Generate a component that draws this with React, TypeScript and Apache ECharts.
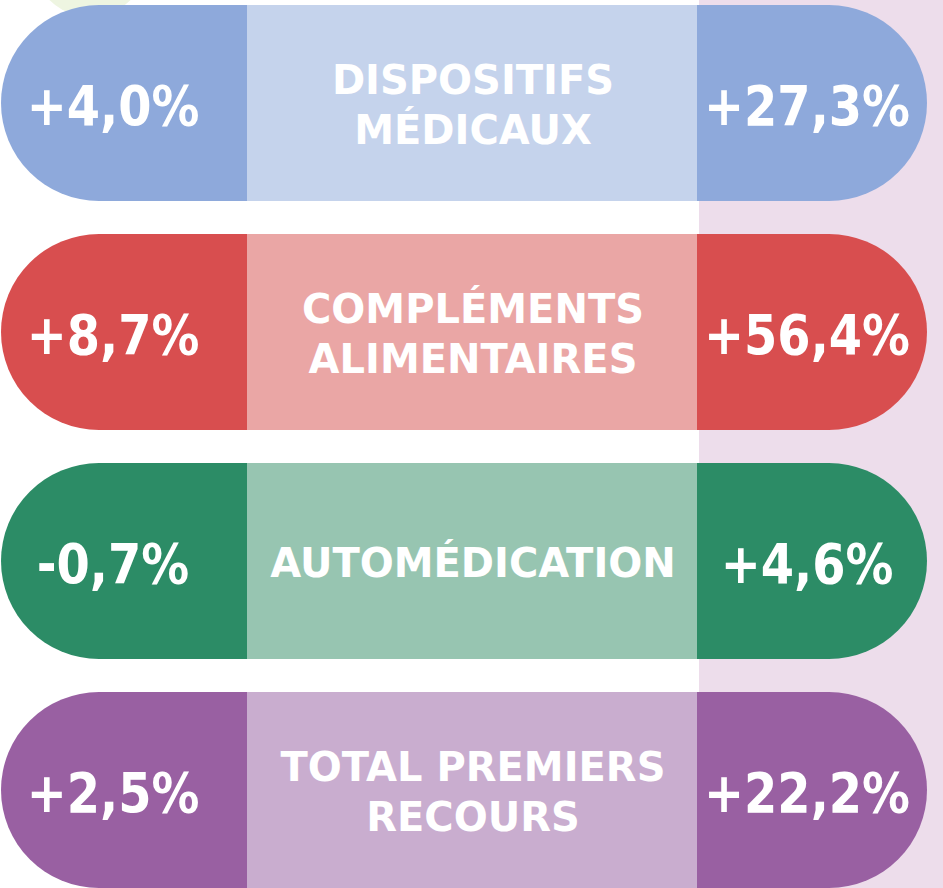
import React, { useEffect, useRef } from "react";
import * as echarts from "echarts";

const categories = ["DISPOSITIFS\nMÉDICAUX", "COMPLÉMENTS\nALIMENTAIRES", "AUTOMÉDICATION", "TOTAL PREMIERS\nRECOURS"];
const leftValues = [4.0, 8.7, -0.7, 2.5];
const rightValues = [27.3, 56.4, 4.6, 22.2];
const darkColors = ["#8EA9DB", "#D84E4F", "#2C8C66", "#9960A2"];
const lightColors = ["#C5D3EC", "#EAA6A5", "#97C5B1", "#C9ADCF"];

const fmt = (v: number) => (v >= 0 ? "+" : "-") + Math.abs(v).toFixed(1).replace(".", ",") + "%";

export default function App() {
  const ref = useRef<HTMLDivElement>(null);
  useEffect(() => {
    if (!ref.current) return;
    const chart = echarts.init(ref.current, null, { renderer: "svg" });
    const data = categories.map((c, i) => [0, i, leftValues[i], rightValues[i]]);
    const valueText = (x: number, y: number, text: string) => ({
      type: "text",
      x,
      y,
      scaleX: 0.87,
      style: {
        x: 0, y: 0, text, fill: "#ffffff",
        font: "bold 55px 'DejaVu Sans'", align: "center", verticalAlign: "middle",
      },
    });
    chart.setOption({
      animation: false,
      backgroundColor: "#ffffff",
      graphic: [
        { type: "rect", z: -10, shape: { x: 699, y: 0, width: 244, height: 888 }, style: { fill: "#EDDDEB" }, silent: true },
        { type: "circle", z: -10, shape: { cx: 90, cy: -40, r: 57 }, style: { fill: "#EEF5E1" }, silent: true },
      ],
      grid: { left: 0, right: 0, top: 103, bottom: 98 },
      xAxis: { type: "value", min: 0, max: 943, show: false },
      yAxis: { type: "category", data: categories, inverse: true, boundaryGap: false, show: false },
      series: [
        {
          type: "custom",
          coordinateSystem: "cartesian2d",
          data,
          renderItem: (params: any, api: any) => {
            const i = api.value(1);
            const c = api.coord([0, i]);
            const cy = c[1];
            const h = 196;
            const r = h / 2;
            const top = cy - r;
            const xL = 1, xA = 247, xB = 697, xR = 927;
            const lv = api.value(2);
            const rv = api.value(3);
            return {
              type: "group",
              children: [
                { type: "rect", shape: { x: xA - 1, y: top, width: xB - xA + 2, height: h }, style: { fill: lightColors[i] } },
                { type: "rect", shape: { x: xL, y: top, width: xA - xL, height: h, r: [r, 0, 0, r] }, style: { fill: darkColors[i] } },
                { type: "rect", shape: { x: xB, y: top, width: xR - xB, height: h, r: [0, r, r, 0] }, style: { fill: darkColors[i] } },
                valueText(113, cy + 3, fmt(lv)),
                valueText(807, cy + 3, fmt(rv)),
                {
                  type: "text",
                  style: {
                    x: 473, y: cy + 2, text: categories[i], fill: "#ffffff",
                    font: "bold 40px 'DejaVu Sans'", lineHeight: 50, align: "center", verticalAlign: "middle",
                  },
                },
              ],
            };
          },
        },
      ],
    });
    return () => chart.dispose();
  }, []);
  return <div ref={ref} style={{ position: "fixed", left: 0, top: 0, width: 943, height: 888 }} />;
}
